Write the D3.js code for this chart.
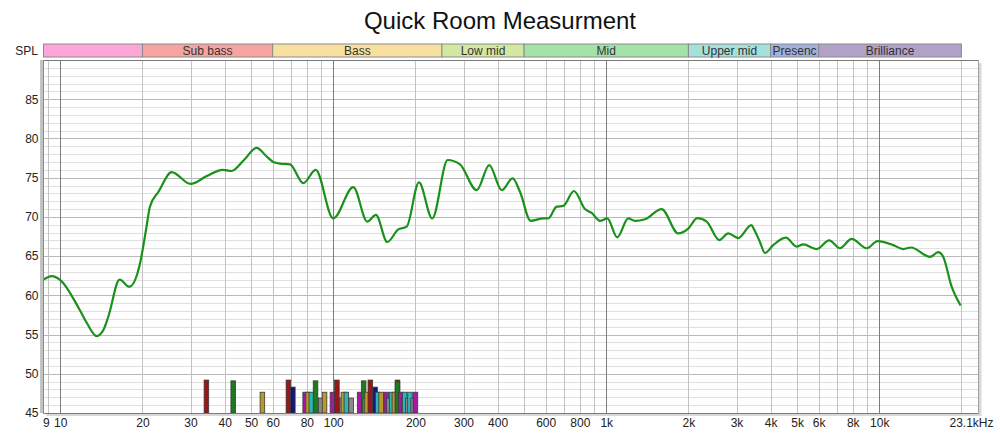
<!DOCTYPE html>
<html>
<head>
<meta charset="utf-8">
<script src="https://cdn.jsdelivr.net/npm/d3@7"></script>
<style>
  html, body { margin: 0; padding: 0; background: #ffffff; }
  svg { display: block; font-family: "Liberation Sans", Arial, sans-serif; }
</style>
</head>
<body>
<svg id="chart" width="1000" height="436"></svg>
<script>
// ---------------- DATA ----------------
const freqs = [8.68, 9.3, 10, 11.8, 12.5, 13.6, 14.4, 15.0, 16.5, 17.9, 19.6, 20.6, 21.3, 22.9, 25.6, 30.0, 34.4, 39.3, 42.4, 47.1, 52.4, 57.0,
  60.3, 63.8, 69.4, 77.7, 86.2, 100, 118.4, 133.2, 143.3, 157.7, 173, 185.7, 206, 230.5, 262.4, 291.1, 335.3, 372.8, 414, 454,
  483, 528.6, 587.7, 613, 658, 696, 761.6, 835.6, 884.5, 948.2, 1009, 1097, 1204, 1274, 1386, 1595, 1835, 1997, 2154, 2333,
  2594, 2798, 3044, 3400, 3480, 3656, 3814, 4089, 4551, 4983, 5267, 5898, 6559, 7178, 7923, 8990, 9864, 11255, 12242, 13065,
  15338, 16448, 17158, 18421, 19870];
const splValues = [62.0, 62.45, 61.95, 58.1, 56.5, 54.8, 55.6, 57.3, 62.0, 61.1, 64.1, 68.3, 71.3, 73.2, 75.7, 74.2, 75.2, 76.0, 75.85, 77.25, 78.8, 77.7,
  77.0, 76.8, 76.7, 74.3, 76.0, 69.8, 73.8, 69.4, 70.25, 66.8, 68.4, 68.75, 74.4, 69.8, 77.25, 76.7, 73.4, 76.6, 73.4, 74.9,
  73.2, 69.5, 69.8, 69.8, 71.3, 71.4, 73.3, 71.0, 70.5, 69.5, 69.8, 67.4, 69.8, 69.5, 69.7, 71.0, 67.9, 68.5, 69.85, 69.4,
  67.05, 67.9, 67.3, 68.95, 68.4, 66.8, 65.4, 66.4, 67.35, 66.2, 66.5, 65.9, 67.0, 66.0, 67.2, 66.0, 66.9, 66.4, 65.9, 66.1,
  64.9, 65.5, 64.9, 61.1, 58.7];

// room-mode markers: frequency, level, kind
const modeFreqs = [34.3, 43.0, 55.0, 68.5, 71.1, 78.9, 80.9, 83.1, 86.1, 90.0, 92.9, 99.3, 103.1, 107.4, 108.9, 111.7, 116.3,
  124.9, 129.2, 131.0, 133.0, 136.7, 142.3, 145.5, 149.7, 156.3, 160.0, 163.6, 167.5, 171.9, 171.9, 176.5, 181.0, 182.6, 187.5, 191.0, 196.1, 200.0];
const modeLevels = [49.2, 49.1, 47.65, 49.2, 48.3, 47.65, 47.65, 47.65, 49.1, 46.9, 47.65, 47.65, 49.2, 46.9, 47.65, 47.65, 46.9,
  47.65, 49.1, 46.9, 47.65, 49.2, 48.3, 47.65, 47.65, 47.65, 46.9, 47.65, 47.65, 49.2, 49.0, 47.65, 46.9, 47.65, 46.9, 47.65, 46.9, 47.65];
const modeKinds = ["red", "green", "gold", "red", "navy", "magenta", "gold", "teal", "green", "gray", "gold", "magenta", "red", "gray", "gold", "teal", "gray",
  "magenta", "green", "gray", "gold", "red", "navy", "teal", "gold", "magenta", "gray", "teal", "gold", "red", "green", "magenta", "gray", "teal", "gray", "teal", "gray", "magenta"];

const bandNames = ["", "Sub bass", "Bass", "Low mid", "Mid", "Upper mid", "Presenc", "Brilliance"];
const bandEdges = [8.68, 20, 60, 250, 500, 2000, 4000, 6000, 20000];

const yTicks = [45, 50, 55, 60, 65, 70, 75, 80, 85];
const xTickValues = [9, 10, 20, 30, 40, 50, 60, 80, 100, 200, 300, 400, 600, 800, 1000, 2000, 3000, 4000, 5000, 6000, 8000, 10000, 23100];
const xTickLabels = ["9", "10", "20", "30", "40", "50", "60", "80", "100", "200", "300", "400", "600", "800", "1k", "2k", "3k", "4k", "5k", "6k", "8k", "10k", "23.1kHz"];

const title = "Quick Room Measurment";

// ---------------- STYLE ----------------
const bandColors = ["#ffa6d8", "#f7a3a0", "#f8e0a0", "#d3e8a0", "#a3e2a8", "#a5e0da", "#a2b0dc", "#b1a0c8"];
const modeColors = { red: "#9e1414", green: "#1f7a1f", gold: "#b8992a", navy: "#14147e", magenta: "#a51aa5", teal: "#2ab6b6", gray: "#8a8a8a" };

const pLeft = 43.5, pRight = 978.5, pTop = 60, pBottom = 413;

const svg = d3.select("#chart");

const x = d3.scaleLog().domain([8.68, 23100]).range([pLeft, pRight]);
const y = d3.scaleLinear().domain([45, 90]).range([pBottom, pTop]);

// Title
svg.append("text").attr("x", 500).attr("y", 29).attr("text-anchor", "middle")
  .attr("font-size", 24).attr("fill", "#111").text(title);

// Band strip
const bandG = svg.append("g");
for (let i = 0; i < bandNames.length; i++) {
  const x0 = i === 0 ? pLeft : x(bandEdges[i]);
  const x1 = x(bandEdges[i + 1]);
  bandG.append("rect").attr("x", x0).attr("y", 44).attr("width", x1 - x0).attr("height", 13)
    .attr("fill", bandColors[i]).attr("stroke", "#8c8c8c").attr("stroke-width", 1);
  if (bandNames[i]) {
    const overflow = bandNames[i] === "Presenc";
    bandG.append("text")
      .attr("x", overflow ? x0 + 2 : (x0 + x1) / 2)
      .attr("y", 54.5)
      .attr("text-anchor", overflow ? "start" : "middle")
      .attr("font-size", 12).attr("fill", "#333").text(bandNames[i]);
  }
}
svg.append("text").attr("x", 38).attr("y", 54.5).attr("text-anchor", "end")
  .attr("font-size", 12).attr("fill", "#222").text("SPL");

// Frame shadow
svg.append("rect").attr("x", pLeft + 3).attr("y", pTop + 3).attr("width", pRight - pLeft).attr("height", pBottom - pTop)
  .attr("fill", "#d8d8d8");
svg.append("rect").attr("x", 40).attr("y", pTop).attr("width", 4).attr("height", pBottom - pTop)
  .attr("fill", "#c4c4c4");
// Plot background
svg.append("rect").attr("x", pLeft).attr("y", pTop).attr("width", pRight - pLeft).attr("height", pBottom - pTop)
  .attr("fill", "#ffffff");

const grid = svg.append("g");
// horizontal minor grid (1 dB)
for (let v = 46; v < 90; v++) {
  if (v % 5 === 0) continue;
  grid.append("line").attr("x1", pLeft).attr("x2", pRight).attr("y1", Math.round(y(v)) + 0.5).attr("y2", Math.round(y(v)) + 0.5)
    .attr("stroke", "#e0e0e0").attr("stroke-width", 1);
}
for (let v = 50; v < 90; v += 5) {
  grid.append("line").attr("x1", pLeft).attr("x2", pRight).attr("y1", Math.round(y(v)) + 0.5).attr("y2", Math.round(y(v)) + 0.5)
    .attr("stroke", "#b8b8b8").attr("stroke-width", 1);
}
// vertical grid
const vLines = [9];
[10, 100, 1000].forEach(d => { for (let k = 1; k <= 9; k++) vLines.push(d * k); });
vLines.push(10000, 20000);
vLines.forEach(f => {
  const major = [10, 100, 1000, 10000].includes(f);
  const xx = Math.round(x(f)) + 0.5;
  grid.append("line").attr("x1", xx).attr("x2", xx).attr("y1", pTop).attr("y2", pBottom)
    .attr("stroke", major ? "#7c7c7c" : "#c2c2c2").attr("stroke-width", 1);
});

// Room-mode bars
const modes = modeFreqs.map((f, i) => ({ f, v: modeLevels[i], k: modeKinds[i] }));
const barW = 4.6;
svg.append("g").selectAll("rect").data(modes).join("rect")
  .attr("x", d => x(d.f) - barW / 2)
  .attr("y", d => y(d.v))
  .attr("width", barW)
  .attr("height", d => y(45) - y(d.v))
  .attr("fill", d => modeColors[d.k])
  .attr("stroke", "#3a3a3a").attr("stroke-width", 0.8);

// Curve
const pts = freqs.map((f, i) => [f, splValues[i]]);
const line = d3.line().x(d => x(d[0])).y(d => y(d[1])).curve(d3.curveMonotoneX);
svg.append("path").attr("d", line(pts)).attr("fill", "none")
  .attr("stroke", "#1a911a").attr("stroke-width", 2.2).attr("stroke-linejoin", "round");

// Frame border
svg.append("line").attr("x1", pLeft).attr("x2", pRight).attr("y1", pTop + 0.5).attr("y2", pTop + 0.5).attr("stroke", "#7a7a7a");
svg.append("line").attr("x1", pLeft).attr("x2", pRight).attr("y1", pBottom + 0.5).attr("y2", pBottom + 0.5).attr("stroke", "#7a7a7a");
svg.append("line").attr("x1", pLeft).attr("x2", pLeft).attr("y1", pTop).attr("y2", pBottom + 1).attr("stroke", "#8a8a8a");
svg.append("line").attr("x1", pRight).attr("x2", pRight).attr("y1", pTop).attr("y2", pBottom + 1).attr("stroke", "#a0a0a0");

// Y axis labels
const yAxis = d3.axisLeft(y).tickValues(yTicks).tickSize(0).tickPadding(0).tickFormat(d3.format("d"));
const gy = svg.append("g").attr("transform", "translate(38.5,0)").call(yAxis);
gy.select(".domain").remove();
gy.selectAll("text").attr("font-size", 12).attr("fill", "#222").attr("font-family", "Liberation Sans, Arial, sans-serif");

// X axis labels
const xAxis = d3.axisBottom(x).tickValues(xTickValues).tickSize(0).tickPadding(0)
  .tickFormat((d, i) => xTickLabels[i]);
const gx = svg.append("g").attr("transform", "translate(0,418)").call(xAxis);
gx.select(".domain").remove();
gx.selectAll("text").attr("font-size", 12).attr("fill", "#222").attr("font-family", "Liberation Sans, Arial, sans-serif");
gx.selectAll(".tick").filter(d => d === 23100).select("text").attr("text-anchor", "end").attr("dx", 14.5);
gx.selectAll(".tick").filter(d => d === 9).select("text").attr("dx", -2);
</script>
</body>
</html>
